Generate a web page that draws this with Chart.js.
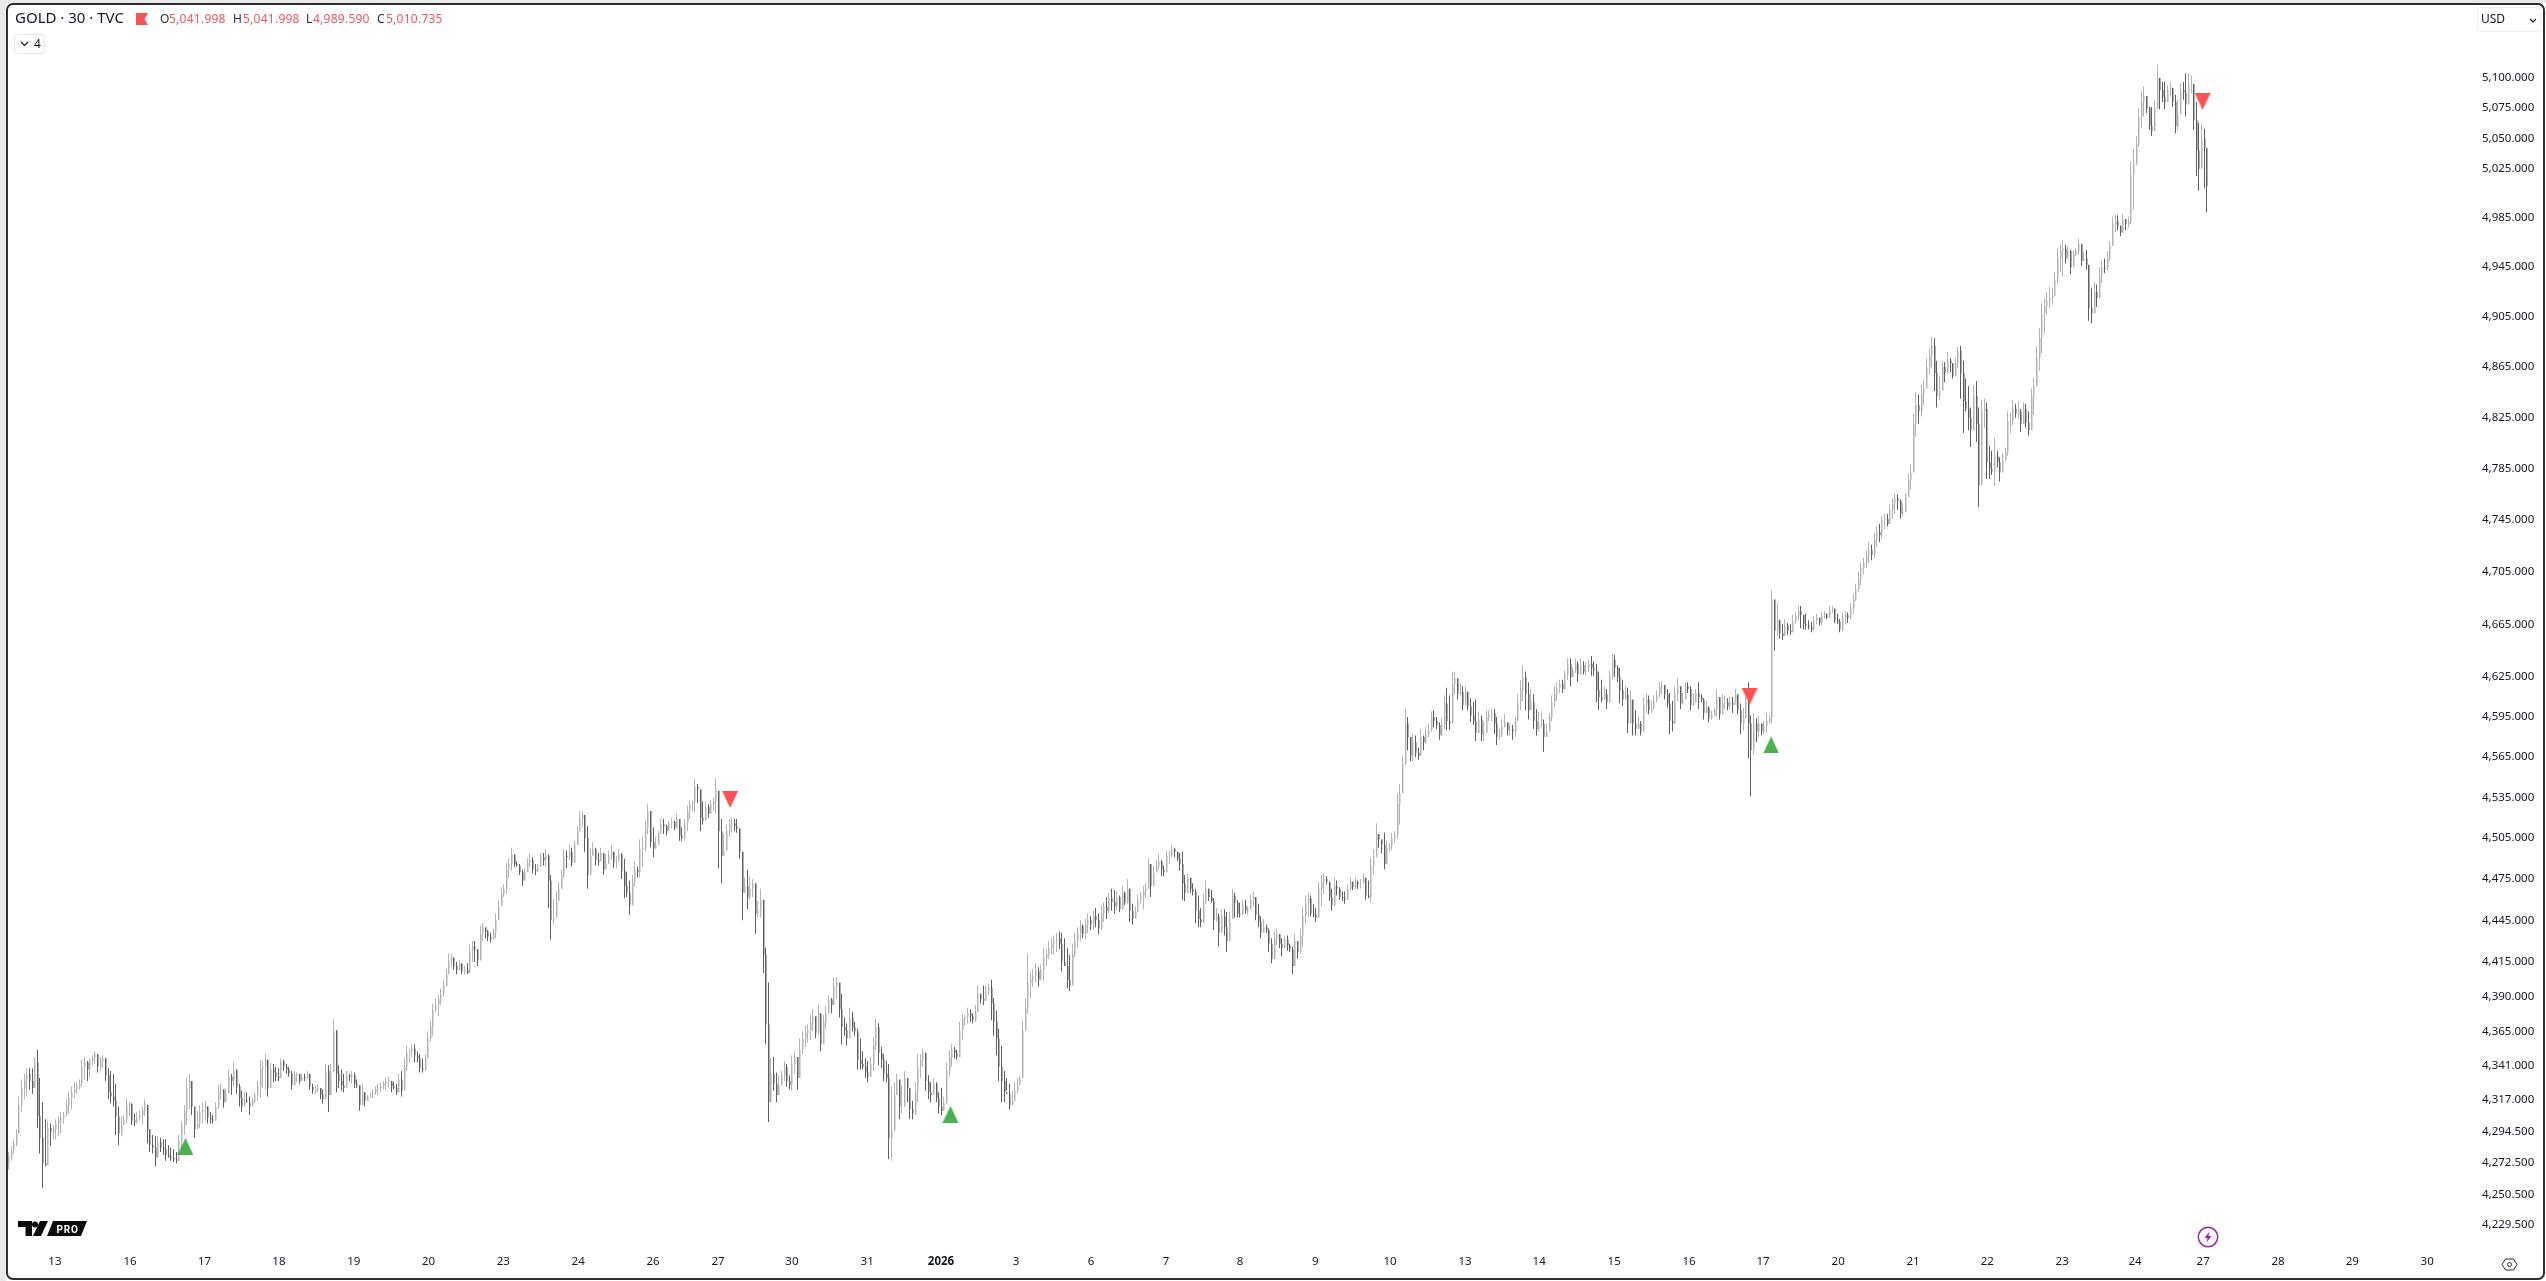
<!DOCTYPE html>
<html><head><meta charset="utf-8"><title>GOLD 30 TVC</title>
<script src="https://cdn.jsdelivr.net/npm/chart.js@4"></script>
<style>
html,body{margin:0;padding:0;background:#fff;width:2546px;height:1281px;overflow:hidden;font-family:"Noto Sans",sans-serif;color:#131722}
#c{position:absolute;left:0;top:0}
.abs{position:absolute;white-space:nowrap;line-height:1}
#stripL{position:absolute;left:0;top:0;width:6px;height:1281px;background:#e9e9e9}
#stripT{position:absolute;left:0;top:0;width:2546px;height:3px;background:#e9e9e9}
#frame{position:absolute;left:6px;top:3px;width:2535px;height:1273px;border:2px solid #2e2e33;border-radius:7px;pointer-events:none}
.v{color:#f7525f;font-size:12px;letter-spacing:.25px;top:13px}
.k{color:#2a2e39;font-size:12px;top:13px}
</style></head><body>
<canvas id="c" width="2546" height="1281"></canvas>
<div id="stripL"></div><div id="stripT"></div><div id="frame"></div>
<div class="abs" style="left:15px;top:10px;font-size:15px">GOLD · 30 · TVC</div>
<svg class="abs" style="left:136px;top:13px" width="13" height="12"><path d="M0 0H12L8.5 6L12 12H0Z" fill="#f9525c"/></svg>
<div class="abs k" style="left:160px">O</div><div class="abs v" style="left:169px">5,041.998</div>
<div class="abs k" style="left:233px">H</div><div class="abs v" style="left:243px">5,041.998</div>
<div class="abs k" style="left:306px">L</div><div class="abs v" style="left:313px">4,989.590</div>
<div class="abs k" style="left:377px">C</div><div class="abs v" style="left:386px">5,010.735</div>
<div class="abs" style="left:14px;top:34px;width:31px;height:20px;box-sizing:border-box;border:1px solid #e0e3eb;border-radius:4px"></div>
<svg class="abs" style="left:20px;top:41px" width="9" height="6"><path d="M1 1L4.5 4.5L8 1" fill="none" stroke="#131722" stroke-width="1.2"/></svg>
<div class="abs" style="left:34px;top:38px;font-size:12px">4</div>
<div class="abs" style="left:2477px;top:7px;width:64px;height:25px;box-sizing:border-box;border:1px solid #eceef2;border-radius:4px"></div>
<div class="abs" style="left:2481px;top:13px;font-size:12px">USD</div>
<svg class="abs" style="left:2529px;top:18px" width="8" height="5"><path d="M1 1L4 4L7 1" fill="none" stroke="#131722" stroke-width="1.1"/></svg>
<svg class="abs" style="left:18px;top:1221px" width="70" height="16"><path d="M0 0H14V15H7.5V6H0Z" fill="#0b0b0b"/><circle cx="17" cy="3.5" r="3" fill="#0b0b0b"/><path d="M22 0H30L23 15H15Z" fill="#0b0b0b"/><path d="M35 0H69L63 15H29Z" fill="#0b0b0b"/><text x="38.5" y="11.5" font-family="Roboto,sans-serif" font-size="10" font-weight="700" fill="#fff" letter-spacing=".8">PRO</text></svg>
<svg class="abs" style="left:2197px;top:1226px" width="22" height="22"><circle cx="11" cy="11" r="9.7" fill="none" stroke="#9c27b0" stroke-width="1.5"/><path d="M12.5 5.5L7.5 12H10.5L9.5 16.5L14.5 10H11.5Z" fill="#9c27b0"/></svg>
<svg class="abs" style="left:2501px;top:1258px" width="17" height="13"><path d="M1 6.5L4.5 1H12.5L16 6.5L12.5 12H4.5Z" fill="none" stroke="#2a2e39" stroke-width="1"/><circle cx="8.5" cy="6.5" r="2" fill="none" stroke="#2a2e39" stroke-width="1"/></svg>
<script>
const highsA=[4280,4284,4289,4296,4319,4331,4335,4339,4339,4339,
4347,4352,4332,4315,4303,4302,4300,4299,4303,4305,
4308,4308,4317,4322,4326,4329,4329,4331,4345,4347,
4344,4346,4348,4351,4348,4347,4348,4346,4339,4337,
4335,4328,4312,4305,4306,4318,4315,4309,4307,4308,
4309,4312,4317,4311,4296,4292,4291,4291,4290,4289,
4289,4285,4283,4282,4280,4292,4302,4313,4332,4335,
4323,4310,4309,4313,4315,4316,4312,4308,4306,4315,
4327,4328,4324,4325,4338,4335,4343,4332,4328,4323,
4322,4322,4319,4318,4322,4330,4345,4344,4349,4337,
4343,4342,4340,4339,4346,4345,4342,4340,4337,4337,
4336,4334,4335,4335,4337,4332,4328,4327,4328,4325,
4324,4342,4341,4342,4374,4363,4341,4338,4335,4337,
4335,4337,4336,4331,4325,4328,4322,4320,4322,4324,
4326,4328,4329,4330,4332,4333,4329];
const lowsA=[4268,4274,4279,4284,4298,4308,4317,4319,4324,4321,
4330,4297,4279,4255,4270,4281,4284,4289,4289,4291,
4293,4300,4305,4307,4310,4318,4321,4324,4326,4331,
4330,4332,4341,4342,4336,4337,4339,4330,4317,4314,
4312,4292,4285,4291,4299,4300,4305,4299,4298,4300,
4302,4299,4305,4286,4280,4279,4270,4283,4280,4278,
4274,4276,4274,4273,4272,4278,4281,4292,4299,4310,
4306,4290,4297,4297,4300,4302,4300,4300,4300,4305,
4310,4317,4311,4316,4322,4320,4326,4321,4312,4308,
4315,4315,4306,4315,4314,4316,4318,4325,4324,4319,
4329,4329,4330,4330,4337,4337,4335,4333,4324,4330,
4329,4328,4330,4330,4331,4324,4321,4321,4322,4317,
4314,4322,4308,4329,4342,4322,4325,4323,4322,4329,
4330,4328,4325,4325,4309,4317,4312,4317,4318,4318,
4320,4320,4322,4324,4324,4325,4322];
const closesA=[4277,4281,4286,4293,4313,4325,4331,4335,4330,4325,
4343,4305,4290,4272,4271,4297,4294,4296,4300,4302,
4304,4306,4313,4318,4322,4324,4326,4328,4340,4343,
4338,4344,4346,4349,4340,4344,4346,4334,4322,4319,
4316,4305,4293,4299,4303,4313,4314,4302,4301,4304,
4306,4309,4313,4296,4285,4283,4276,4287,4283,4282,
4278,4277,4276,4275,4274,4288,4298,4309,4325,4330,
4312,4296,4300,4308,4310,4312,4304,4303,4302,4312,
4322,4324,4315,4321,4333,4330,4338,4326,4318,4312,
4316,4315,4312,4316,4320,4326,4339,4340,4345,4325,
4338,4336,4333,4332,4344,4340,4338,4335,4327,4334,
4335,4330,4333,4332,4335,4326,4323,4324,4325,4320,
4317,4337,4320,4336,4366,4335,4330,4327,4325,4334,
4333,4334,4328,4327,4313,4322,4316,4319,4320,4322,
4324,4325,4326,4328,4330,4330,4326];
const highsB=[4329,4328,4335,4337,4346,4355,4353,4356,4356,4351,
4349,4346,4349,4365,4373,4385,4389,4391,4396,4402,
4410,4421,4421,4416,4415,4416,4413,4412,4414,4428,
4430,4430,4424,4441,4443,4439,4438,4436,4439,4450,
4460,4469,4471,4487,4490,4498,4488,4488,4486,4482,
4483,4490,4494,4491,4486,4486,4494,4494,4497,4493,
4478,4460,4466,4473,4482,4497,4496,4500,4498,4503,
4514,4525,4525,4519,4514,4498,4502,4498,4494,4498,
4492,4493,4496,4500,4492,4492,4497,4494,4490,4480,
4474,4478,4488,4484,4504,4506,4518,4530,4516,4513,
4506,4510,4519,4519,4515,4518,4520,4518,4523,4518,
4513,4519,4529,4533,4533,4549,4545,4538,4532,4532,
4530,4533,4535,4549,4539,4519,4508,4515,4519,4520,
4519,4519,4512,4495,4476,4482,4477,4475,4468,4459,
4468,4457,4425,4400,4346];
const lowsB=[4324,4320,4325,4319,4329,4337,4343,4347,4343,4343,
4336,4336,4337,4346,4358,4362,4379,4376,4384,4390,
4397,4406,4411,4409,4406,4411,4406,4406,4406,4411,
4415,4415,4412,4423,4430,4432,4430,4429,4432,4432,
4447,4457,4462,4464,4476,4481,4484,4484,4478,4470,
4476,4480,4484,4479,4478,4480,4484,4485,4484,4454,
4431,4442,4453,4461,4468,4476,4483,4489,4484,4494,
4501,4510,4513,4495,4468,4490,4493,4485,4485,4489,
4478,4482,4486,4489,4483,4483,4489,4475,4461,4462,
4449,4466,4470,4476,4476,4484,4495,4508,4498,4491,
4497,4504,4508,4508,4507,4512,4512,4511,4512,4503,
4503,4503,4510,4519,4525,4524,4531,4510,4515,4522,
4520,4524,4525,4523,4483,4472,4492,4496,4506,4509,
4510,4509,4490,4445,4465,4453,4460,4462,4435,4447,
4447,4407,4356,4301,4323];
const closesB=[4325,4322,4331,4323,4340,4350,4350,4353,4348,4346,
4339,4338,4346,4360,4368,4380,4384,4388,4392,4398,
4406,4416,4418,4412,4409,4414,4408,4409,4407,4423,
4426,4424,4416,4435,4440,4437,4433,4431,4436,4445,
4455,4464,4468,4482,4486,4493,4486,4485,4480,4474,
4480,4487,4489,4482,4481,4484,4491,4489,4492,4474,
4445,4447,4459,4468,4477,4492,4491,4495,4487,4500,
4510,4520,4522,4505,4478,4492,4497,4489,4488,4494,
4482,4486,4492,4495,4487,4488,4493,4481,4470,4465,
4456,4473,4482,4480,4497,4498,4512,4525,4502,4498,
4500,4508,4515,4514,4510,4516,4517,4513,4519,4507,
4505,4516,4524,4530,4531,4543,4541,4520,4518,4528,
4523,4530,4532,4540,4510,4492,4496,4510,4515,4516,
4514,4512,4495,4465,4470,4462,4468,4472,4450,4452,
4460,4420,4370,4315,4335];
const highsC=[4347,4336,4334,4337,4344,4342,4334,4348,4351,4343,
4360,4365,4369,4370,4377,4381,4371,4384,4374,4377,
4383,4391,4389,4403,4404,4394,4392,4375,4371,4382,
4379,4372,4367,4360,4351,4346,4344,4347,4361,4374,
4371,4354,4349,4344,4342,4326,4329,4335,4327,4327,
4337,4332,4324,4316,4329,4349,4349,4353,4342,4334,
4329,4332,4329,4322,4325,4319,4343,4352,4356,4354,
4352,4372,4378,4377,4382,4381,4378,4384,4398,4390,
4398,4398,4399,4402,4389,4380,4367,4355,4337,4332,
4328,4323,4329,4332,4334,4373,4389,4421,4407,4410,
4414,4411,4413,4425,4424,4430,4432,4434,4436,4437,
4436,4432,4425,4420,4428,4436,4440,4445,4442,4446,
4450,4448,4452,4454,4450,4456,4458,4462,4465,4468,
4467,4466,4463];
const lowsC=[4323,4315,4323,4328,4330,4326,4324,4323,4335,4324,
4332,4349,4354,4357,4359,4365,4360,4363,4351,4362,
4367,4378,4378,4385,4388,4375,4356,4362,4355,4362,
4365,4362,4338,4338,4338,4332,4329,4333,4337,4352,
4341,4339,4330,4329,4275,4274,4304,4320,4303,4307,
4321,4315,4303,4303,4306,4315,4332,4340,4323,4317,
4315,4321,4315,4307,4306,4310,4317,4333,4340,4346,
4345,4352,4359,4369,4371,4372,4371,4372,4383,4385,
4384,4388,4391,4373,4362,4348,4330,4315,4315,4323,
4310,4315,4317,4321,4328,4340,4366,4378,4389,4397,
4400,4397,4404,4401,4412,4417,4420,4420,4422,4424,
4408,4412,4396,4394,4402,4418,4425,4430,4432,4431,
4436,4438,4438,4440,4435,4438,4444,4446,4450,4452,
4450,4452,4451];
const closesC=[4328,4320,4327,4334,4340,4330,4327,4342,4347,4332,
4352,4360,4364,4366,4372,4376,4364,4378,4356,4372,
4378,4388,4384,4398,4400,4381,4368,4366,4360,4375,
4368,4365,4345,4342,4340,4336,4333,4342,4355,4368,
4350,4345,4335,4332,4290,4295,4320,4331,4312,4312,
4332,4325,4310,4307,4322,4340,4345,4350,4330,4322,
4320,4328,4318,4312,4309,4314,4337,4347,4352,4350,
4347,4366,4374,4375,4378,4376,4373,4379,4392,4388,
4387,4394,4396,4385,4372,4360,4340,4330,4322,4321,
4313,4316,4323,4327,4332,4366,4382,4400,4402,4405,
4408,4402,4409,4418,4420,4425,4428,4430,4432,4428,
4415,4412,4402,4398,4420,4430,4436,4441,4435,4442,
4445,4442,4448,4445,4439,4450,4455,4452,4461,4458,
4455,4462,4453];
const highsD=[4470,4466,4475,4468,4457,4455,4464,4466,4470,4472,
4490,4481,4485,4489,4493,4489,4485,4496,4496,4500,
4498,4494,4494,4495,4478,4479,4475,4472,4468,4463,
4454,4464,4474,4468,4467,4461,4454,4450,4453,4453,
4451,4451,4468,4465,4460,4458,4460,4460,4455,4464,
4466,4459,4457,4448,4446,4442,4439,4432,4437,4439,
4433,4432,4434,4434,4428,4426,4435,4430,4439,4455,
4463,4465,4463,4457,4454,4473,4478,4479,4477,4472,
4468,4476,4474,4469,4466,4466,4471,4476,4473,4476,
4474,4475,4479,4471,4474,4491,4497,4516,4507,4503,
4509,4503,4501,4509,4510];
const lowsD=[4456,4456,4457,4444,4442,4448,4451,4457,4453,4461,
4470,4462,4471,4480,4482,4477,4477,4480,4486,4491,
4491,4488,4481,4460,4459,4472,4465,4463,4443,4440,
4440,4450,4457,4459,4458,4438,4444,4426,4442,4434,
4422,4440,4453,4447,4447,4447,4449,4450,4449,4453,
4455,4445,4440,4432,4437,4436,4422,4414,4424,4427,
4425,4419,4427,4423,4422,4406,4416,4417,4421,4426,
4442,4447,4448,4447,4444,4449,4455,4464,4471,4459,
4452,4455,4463,4460,4459,4457,4462,4467,4467,4468,
4468,4468,4472,4460,4461,4458,4478,4491,4498,4494,
4482,4491,4495,4496,4502];
const closesD=[4465,4458,4468,4452,4446,4451,4460,4463,4466,4468,
4486,4470,4480,4485,4488,4482,4480,4492,4492,4497,
4495,4490,4486,4472,4465,4476,4468,4466,4452,4446,
4443,4458,4468,4462,4459,4445,4448,4436,4448,4440,
4430,4446,4463,4458,4450,4449,4456,4452,4453,4460,
4462,4449,4444,4436,4440,4438,4428,4417,4432,4435,
4428,4425,4431,4427,4424,4412,4430,4422,4434,4448,
4458,4461,4450,4449,4447,4468,4473,4475,4473,4462,
4456,4470,4468,4462,4461,4460,4468,4473,4469,4473,
4471,4472,4476,4463,4462,4485,4492,4508,4504,4500,
4486,4498,4499,4505,4507];
const highsE=[4538,4545,4566,4601,4595,4575,4582,4581,4572,4586,
4581,4587,4590,4599,4600,4595,4591,4594,4611,4617,
4611,4629,4629,4623,4620,4618,4618,4613,4609,4606,
4608,4599,4596,4591,4600,4600,4601,4601,4595,4586,
4593,4597,4589,4590,4589,4595,4612,4623,4634,4629,
4621,4616,4612,4601,4599,4598,4593,4590,4598,4611,
4618,4621,4623,4623,4630,4639,4639,4632,4639,4637,
4639,4637,4636,4638,4641,4637,4635,4629,4623,4618,
4616,4630,4643,4642,4634,4632,4623,4618,4617,4615,
4605,4600,4596,4592,4610,4613,4611,4607,4611,4615,
4621,4622,4618,4616,4613,4607,4618,4624,4615,4613,
4621,4621,4618,4613,4616,4621,4612,4609,4607,4603,
4600,4602,4616,4608,4612,4611,4609,4610,4610,4616,4608,
4605,4602,4610,4621,4596,4598,4594,4596,4588,4592,
4598,4596,4691,4678,4681,4668,4665,4669,4666,4665,
4672,4674,4679,4679,4671,4673,4668,4667,4671,4673,
4670,4675,4675,4673,4679,4679,4676,4673,4669,4674,
4675,4674,4681,4688,4696,
4705,4712,4716,4722,4728,4726,4735,4740,4742,4748];
const lowsE=[4505,4515,4539,4559,4570,4562,4562,4565,4563,4566,
4570,4575,4580,4584,4587,4586,4578,4582,4586,4585,
4585,4605,4612,4608,4611,4600,4608,4600,4591,4589,
4577,4587,4577,4577,4587,4592,4592,4582,4574,4578,
4580,4587,4581,4581,4578,4580,4592,4600,4607,4600,
4593,4602,4586,4581,4584,4587,4569,4582,4586,4592,
4602,4607,4613,4613,4615,4623,4618,4626,4628,4621,
4629,4627,4626,4629,4626,4626,4606,4600,4606,4611,
4601,4618,4623,4625,4621,4605,4603,4610,4583,4595,
4581,4581,4587,4581,4591,4598,4597,4598,4600,4606,
4610,4612,4608,4602,4582,4584,4599,4607,4601,4605,
4612,4613,4600,4603,4608,4601,4606,4593,4599,4591,
4593,4596,4595,4593,4601,4601,4600,4601,4598,4605,4597,
4582,4585,4596,4564,4536,4567,4576,4580,4581,4582,
4583,4590,4590,4645,4656,4654,4653,4657,4657,4657,
4659,4665,4668,4662,4661,4661,4661,4659,4660,4665,
4664,4664,4669,4669,4671,4674,4666,4665,4659,4660,
4665,4666,4669,4673,4683,
4690,4695,4703,4708,4712,4714,4716,4724,4728,4731];
const closesE=[4530,4538,4560,4590,4580,4566,4576,4568,4566,4580,
4576,4582,4586,4595,4592,4589,4581,4589,4605,4592,
4590,4620,4624,4612,4614,4604,4614,4603,4596,4592,
4583,4593,4582,4583,4595,4597,4598,4590,4580,4581,
4588,4591,4585,4586,4584,4592,4606,4615,4625,4612,
4600,4606,4592,4586,4590,4590,4580,4584,4595,4606,
4612,4617,4620,4616,4627,4635,4625,4630,4635,4627,
4634,4629,4630,4635,4632,4630,4615,4610,4608,4612,
4606,4626,4638,4632,4625,4615,4608,4612,4590,4608,
4590,4586,4590,4584,4604,4608,4600,4601,4607,4612,
4618,4619,4612,4605,4592,4590,4612,4618,4605,4608,
4618,4616,4604,4606,4613,4610,4608,4598,4602,4594,
4596,4600,4610,4597,4605,4606,4603,4606,4604,4612,4600,
4590,4594,4606,4590,4570,4590,4584,4590,4584,4588,
4592,4594,4684,4660,4668,4658,4656,4664,4660,4659,
4667,4671,4675,4672,4665,4664,4663,4661,4668,4670,
4666,4672,4673,4670,4676,4677,4668,4667,4661,4670,
4672,4670,4677,4684,4692,
4700,4708,4712,4718,4722,4718,4730,4736,4733,4745];
const highsF=[4750,4750,4757,4762,4766,4765,4761,4758,4766,4781,
4788,4828,4845,4843,4851,4855,4872,4880,4889,4888,
4870,4858,4870,4869,4877,4872,4868,4872,4881,4882,
4870,4856,4850,4833,4851,4854,4833,4839,4840,4837,
4803,4799,4810,4799,4794,4797,4801,4830,4829,4839,
4836,4838,4832,4837,4836,4830,4848,4857,4882,4896,
4916,4920,4925,4929,4928,4941,4960,4964,4967,4963,
4962,4959,4958,4960,4968,4963,4957,4959,4940,4928,
4933,4931];
const lowsF=[4738,4740,4745,4746,4750,4753,4746,4748,4758,4764,
4769,4790,4810,4820,4826,4835,4850,4859,4864,4846,
4833,4839,4852,4853,4860,4861,4856,4858,4864,4840,
4813,4830,4815,4802,4820,4806,4755,4797,4817,4777,
4777,4780,4771,4786,4775,4784,4791,4795,4813,4819,
4825,4825,4814,4825,4817,4811,4827,4827,4851,4862,
4876,4892,4907,4912,4915,4925,4931,4941,4937,4948,
4952,4939,4950,4954,4955,4946,4950,4943,4902,4900,
4915,4913];
const closesF=[4746,4742,4753,4758,4762,4760,4750,4751,4763,4776,
4782,4820,4835,4830,4844,4848,4865,4874,4882,4860,
4842,4846,4865,4860,4870,4868,4858,4868,4878,4860,
4838,4832,4825,4815,4842,4820,4772,4830,4832,4790,
4785,4783,4795,4790,4782,4792,4798,4822,4823,4832,
4828,4830,4820,4832,4821,4815,4842,4850,4872,4888,
4908,4914,4918,4920,4922,4935,4952,4958,4960,4952,
4958,4945,4955,4958,4964,4950,4952,4947,4912,4908,
4925,4920];
const highsG=[4945,4950,4952,4958,4966,4986,4987,4987,4979,4988,
4984,4986,5031,5041,5052,5075,5089,5093,5083,5076,
5076,5082,5111,5096,5097,5097,5094,5097,5089,5086,
5082,5096,5097,5104,5104,5102,5090,5080,5063,5062,
5058,5041.998];
const lowsG=[4925,4932,4940,4942,4950,4965,4973,4975,4970,4975,
4975,4977,4980,4992,5028,5043,5058,5068,5071,5057,
5052,5065,5074,5074,5080,5074,5082,5085,5076,5054,
5057,5082,5082,5068,5079,5087,5057,5019,5007,5035,
5009,4989.59];
const closesG=[4938,4945,4944,4952,4962,4980,4982,4978,4973,4984,
4980,4982,5020,5030,5045,5068,5080,5085,5075,5060,
5056,5075,5100,5090,5084,5080,5090,5092,5080,5060,
5070,5090,5088,5078,5095,5095,5065,5040,5025,5050,
5041.998,5010.735];
const firstOpen=4272;
const priceTicks=[5100,5075,5050,5025,4985,4945,4905,4865,4825,4785,4745,4705,4665,4625,4595,4565,4535,4505,4475,4445,4415,4390,4365,4341,4317,4294.5,4272.5,4250.5,4229.5];
const dayLabels=["13","16","17","18","19","20","23","24","26","27","30","31","2026","3","6","7","8","9","10","13","14","15","16","17","20","21","22","23","24","27","28","29","30"];
const dayBars=[17.9,46.6,75,103.4,132,160.5,189,217.6,246.2,271,299.2,327.9,356.1,384.7,413.4,442,470.2,498.9,527.5,556.1,584.4,613,641.6,669.8,698.5,727.1,755.4,784,811.8,837.8,866.4,894.7,923.3];
const buyBars=[67.7,359.7,672.9];
const buyPrices=[4284,4306.4,4574];
const sellBars=[275.6,664.7,837.6];
const sellPrices=[4533.5,4610.4,5080.5];

const highs=[...highsA,...highsB,...highsC,...highsD,...highsE,...highsF,...highsG];
const lows=[...lowsA,...lowsB,...lowsC,...lowsD,...lowsE,...lowsF,...lowsG];
const closes=[...closesA,...closesB,...closesC,...closesD,...closesE,...closesF,...closesG];
if(highs.length!==lows.length||lows.length!==closes.length) throw new Error("len "+[highs.length,lows.length,closes.length]);
const opens=closes.map((c,i)=>i?closes[i-1]:firstOpen);
const upColor="#b4b4b4",downColor="#606060";
const colors=closes.map((c,i)=>c>=opens[i]?upColor:downColor);
const wicks=highs.map((h,i)=>({x:i,y:[lows[i],h]}));
const bodies=closes.map((c,i)=>({x:i,y:[Math.min(c,opens[i]),Math.max(c,opens[i])]}));
const snap={id:"snap",beforeDatasetsDraw(ch){
  ch.getDatasetMeta(0).data.forEach(e=>{e.x=Math.round(e.x)+.5;});
  ch.getDatasetMeta(1).data.forEach(e=>{e.x=Math.round(e.x)+.75;});
}};
function triangle(color,up){
  const t=document.createElement("canvas");t.width=16;t.height=17;
  const g=t.getContext("2d");g.fillStyle=color;g.beginPath();
  if(up){g.moveTo(8,0);g.lineTo(16,17);g.lineTo(0,17);}
  else{g.moveTo(0,0);g.lineTo(16,0);g.lineTo(8,17);}
  g.closePath();g.fill();return t;
}
const font="'Noto Sans',sans-serif";
new Chart(document.getElementById("c"),{
  plugins:[snap],
  data:{datasets:[
    {type:"bar",data:wicks,backgroundColor:colors,barThickness:1,grouped:false,inflateAmount:0,borderWidth:0,order:3},
    {type:"bar",data:bodies,backgroundColor:colors,barThickness:1.5,grouped:false,inflateAmount:0,borderWidth:0,order:2},
    {type:"line",data:buyBars.map((x,i)=>({x,y:buyPrices[i]})),showLine:false,pointStyle:triangle("#4caf50",true),pointRadius:9,pointHoverRadius:9,order:1},
    {type:"line",data:sellBars.map((x,i)=>({x,y:sellPrices[i]})),showLine:false,pointStyle:triangle("#ff5252",false),pointRadius:9,pointHoverRadius:9,order:0}
  ]},
  options:{
    responsive:false,animation:false,events:[],
    layout:{autoPadding:false,padding:{left:6,top:6,right:6,bottom:0}},
    plugins:{legend:{display:false},tooltip:{enabled:false},title:{display:false}},
    scales:{
      x:{type:"linear",offset:false,min:-0.763,max:928.2,position:"bottom",
        grid:{display:false,drawTicks:false},border:{display:false},
        afterBuildTicks(s){s.ticks=dayBars.map(value=>({value}));},
        afterFit(s){s.height=33;s.paddingLeft=0;s.paddingRight=0;s.paddingTop=0;s.paddingBottom=0;},
        ticks:{autoSkip:false,maxRotation:0,minRotation:0,padding:7,color:"#131722",
          font:c=>({family:font,size:11.5,weight:dayLabels[c.index]==="2026"?"700":"400"}),
          callback:(v,i)=>dayLabels[i]}},
      y:{type:"logarithmic",position:"right",min:4213.5,max:5160.3,bounds:"data",beginAtZero:false,
        grid:{display:false,drawTicks:false},border:{display:false},
        afterBuildTicks(s){s.ticks=priceTicks.map(value=>({value}));},
        afterFit(s){s.width=100;s.paddingTop=0;s.paddingBottom=0;s.paddingLeft=0;s.paddingRight=0;},
        ticks:{autoSkip:false,major:{enabled:false},padding:42,color:"#131722",crossAlign:"near",
          font:{family:font,size:11.5},
          callback:v=>Number(v).toLocaleString("en-US",{minimumFractionDigits:3,maximumFractionDigits:3})}}
    }
  }
});
</script>
</body></html>
